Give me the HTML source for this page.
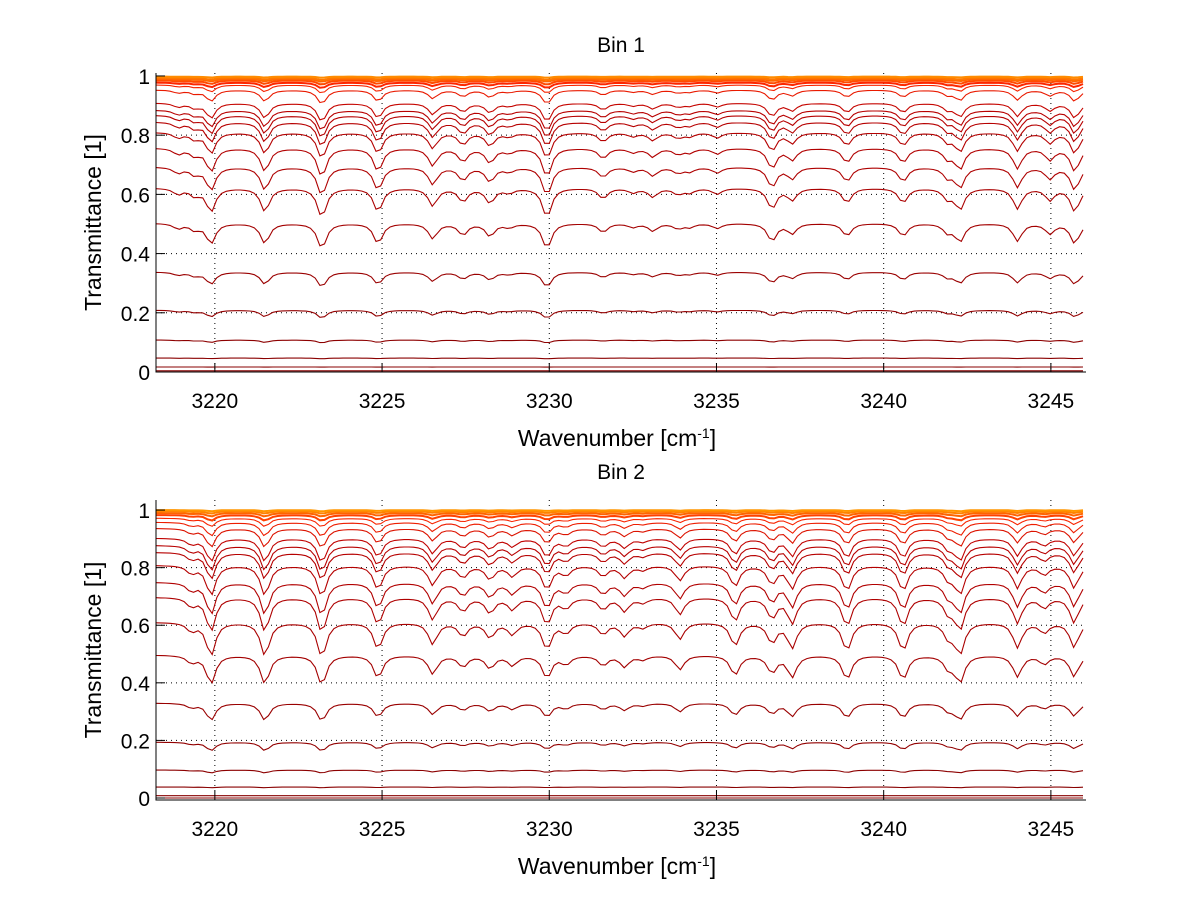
<!DOCTYPE html>
<html><head><meta charset="utf-8">
<style>
html,body{margin:0;padding:0;background:#fff;}
svg{display:block;font-family:"Liberation Sans",sans-serif;}
</style></head>
<body>
<svg id="chart" width="1200" height="901" viewBox="0 0 1200 901"></svg>
<script>
// ---- data ----
const xTicks = [3220, 3225, 3230, 3235, 3240, 3245];
const yTicks = [0, 0.2, 0.4, 0.6, 0.8, 1];
const yTickLabels = ["0", "0.2", "0.4", "0.6", "0.8", "1"];
const xRange = [3218.24, 3246.05];

// Bin 1 series baselines and dip fractions
const bin1Levels = [0.998,0.994,0.99,0.985,0.978,0.97,0.953,0.909,0.885,0.868,0.845,0.81,0.757,0.693,0.622,0.503,0.338,0.209,0.108,0.047,0.017,0.004];
const bin1Depth  = [0.004,0.008,0.01,0.015,0.02,0.03,0.05,0.07,0.08,0.09,0.1,0.11,0.13,0.14,0.16,0.17,0.15,0.13,0.09,0.05,0.03,0.02];
const bin1Lines  = [3218.9,3219.4,3219.88,3221.5,3223.2,3224.88,3226.52,3227.42,3228.23,3228.8,3229.93,3231.61,3232.5,3233.1,3233.85,3234.2,3235.02,3236.66,3237.26,3238.9,3240.58,3241.92,3242.28,3244.0,3244.97,3245.72];
const bin1Str    = [0.2,0.25,0.8,0.8,1.0,0.8,0.6,0.45,0.5,0.15,1.0,0.35,0.15,0.3,0.2,0.15,0.2,0.7,0.4,0.5,0.5,0.35,0.7,0.7,0.4,0.8];

// Bin 2
const bin2Levels = [1.0,0.996,0.99,0.983,0.972,0.958,0.937,0.903,0.878,0.854,0.809,0.75,0.698,0.611,0.497,0.33,0.194,0.097,0.038,0.008,0.0];
const bin2Depth  = [0.004,0.008,0.012,0.02,0.03,0.05,0.07,0.09,0.1,0.11,0.13,0.15,0.17,0.19,0.2,0.18,0.15,0.1,0.06,0.03,0.02];
const bin2Lines  = [3219.3,3219.88,3221.5,3223.2,3224.88,3226.52,3227.42,3228.23,3228.9,3229.93,3230.5,3231.61,3232.25,3232.8,3233.9,3235.55,3236.66,3237.26,3238.9,3240.58,3241.95,3242.28,3244.0,3244.8,3245.7];
const bin2Str    = [0.25,1.0,1.0,1.05,0.8,0.65,0.4,0.45,0.35,0.8,0.3,0.35,0.4,0.15,0.5,0.7,0.6,0.75,0.85,0.85,0.45,0.9,0.75,0.3,0.75];

const NS = "http://www.w3.org/2000/svg";
const svg = document.getElementById('chart');
function mk(tag, attrs, parent){
  const e = document.createElementNS(NS, tag);
  for (const k in attrs) e.setAttribute(k, attrs[k]);
  (parent||svg).appendChild(e);
  return e;
}
function colorFor(level){
  let r,g,b;
  if (level < 0.9){ const t=level/0.9; r=Math.round(135+ t*50); g=0; b=0; }
  else if (level < 0.98){ const t=(level-0.9)/0.08; r=Math.round(190+t*65); g=Math.round(t*40); b=0; }
  else { const t=Math.min(1,(level-0.98)/0.02); r=255; g=Math.round(50+t*100); b=0; }
  return `rgb(${r},${g},${b})`;
}

function drawPanel(cfg){
  const {title, top, bottom, yMin, yMax, levels, depth, lines, str, name} = cfg;
  const L=156, R=1086;
  const xs = w => L + (w - xRange[0])/(xRange[1]-xRange[0])*(R-L);
  const ys = v => bottom - (v - yMin)/(yMax-yMin)*(bottom-top);
  const g = mk('g', {});
  
  

  xTicks.forEach(t=>{
    const ln = mk('line',{x1:xs(t),x2:xs(t),y1:top,y2:bottom,stroke:'#000','stroke-width':1,'stroke-dasharray':'1,4'},g);
    
    
  });
  yTicks.forEach(t=>{
    if (t<=0 || t>=1) return;
    const ln = mk('line',{x1:L,x2:R,y1:ys(t),y2:ys(t),stroke:'#000','stroke-width':1,'stroke-dasharray':'1,4'},g);
    
    
  });

  const gamma = 0.16;
  const step = 0.14;
  for (let i=levels.length-1;i>=0;i--){
    let d='';
    for (let w=xRange[0]; w<=xRange[1]+1e-9; w+=step){
      let s=0;
      for (let j=0;j<lines.length;j++){
        const dx=(w-lines[j])/gamma;
        s += str[j]/(1+dx*dx);
      }
      let v = levels[i]*(1 - depth[i]*s);
      if (v<0) v=0;
      d += (d?'L':'M') + xs(w).toFixed(1)+','+ys(v).toFixed(1);
    }
    const p = mk('path',{d:d,fill:'none',stroke:colorFor(levels[i]),'stroke-width':levels[i]>0.975?2:1.1},g);
    
    
  }

  const ax = mk('path',{d:`M${L},${top}V${bottom}H${R}`,fill:'none',stroke:'#000','stroke-width':1},g);
  
  
  xTicks.forEach(t=>{
    const tk=mk('line',{x1:xs(t),x2:xs(t),y1:bottom,y2:bottom-9,stroke:'#000'},g);
    
    
    const tx=mk('text',{x:xs(t),y:bottom+36,'text-anchor':'middle','font-size':21},g);
    tx.textContent=t;
    
    
  });
  yTicks.forEach((t,k)=>{
    const tk=mk('line',{x1:L,x2:L+9,y1:ys(t),y2:ys(t),stroke:'#000'},g);
    
    
    const tx=mk('text',{x:L-6,y:ys(t)+8,'text-anchor':'end','font-size':21},g);
    tx.textContent=yTickLabels[k];
    
    
  });
  const tt=mk('text',{x:621,y:top-21,'text-anchor':'middle','font-size':21},g);
  tt.textContent=title;
  
  
  const xl=mk('text',{x:617,y:bottom+74,'text-anchor':'middle','font-size':23},g);
  xl.innerHTML='Wavenumber [cm<tspan baseline-shift="super" font-size="14">-1</tspan>]';
  
  
  const cy=(top+bottom)/2;
  const yl=mk('text',{x:101,y:cy,'text-anchor':'middle','font-size':23,transform:`rotate(-90 101 ${cy})`},g);
  yl.textContent='Transmittance [1]';
  
  
}

drawPanel({title:'Bin 1', top:73, bottom:372, yMin:0, yMax:1.01, levels:bin1Levels, depth:bin1Depth, lines:bin1Lines, str:bin1Str, name:'bin1-panel'});
drawPanel({title:'Bin 2', top:500, bottom:800, yMin:-0.007, yMax:1.035, levels:bin2Levels, depth:bin2Depth, lines:bin2Lines, str:bin2Str, name:'bin2-panel'});
</script>
</body></html>
